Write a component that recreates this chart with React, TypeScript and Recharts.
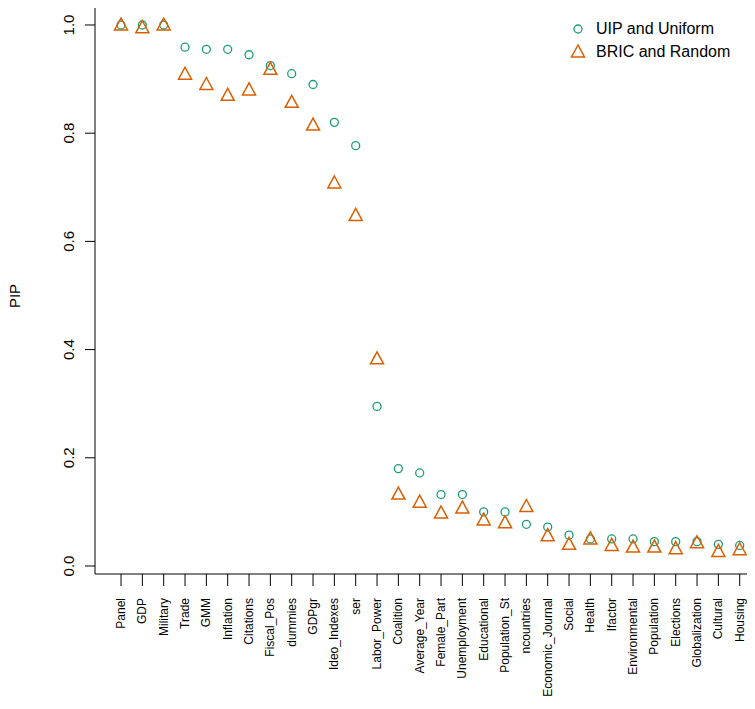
import { ComposedChart, Scatter, XAxis, YAxis } from "recharts";

const categories = [
  "Panel", "GDP", "Military", "Trade", "GMM", "Inflation", "Citations", "Fiscal_Pos",
  "dummies", "GDPgr", "Ideo_Indexes", "ser", "Labor_Power", "Coalition", "Average_Year",
  "Female_Part", "Unemployment", "Educational", "Population_St", "ncountries",
  "Economic_Journal", "Social", "Health", "Ifactor", "Environmental", "Population",
  "Elections", "Globalization", "Cultural", "Housing",
];

const uipUniform = [
  1.0, 1.0, 1.0, 0.959, 0.955, 0.955, 0.945, 0.925, 0.91, 0.89, 0.82, 0.777, 0.295,
  0.18, 0.172, 0.132, 0.132, 0.1, 0.1, 0.077, 0.072, 0.057, 0.05, 0.05, 0.05, 0.045,
  0.045, 0.045, 0.04, 0.038,
];

const bricRandom = [
  1.0, 0.995, 1.0, 0.909, 0.89, 0.87, 0.88, 0.918, 0.857, 0.815, 0.708, 0.648, 0.383,
  0.133, 0.118, 0.098, 0.107, 0.085, 0.08, 0.11, 0.056, 0.04, 0.05, 0.038, 0.035,
  0.035, 0.032, 0.043, 0.027, 0.03,
];

const yTicks = [0, 0.2, 0.4, 0.6, 0.8, 1.0];

const uipData = categories.map((name, i) => ({ i, name, v: uipUniform[i] }));
const bricData = categories.map((name, i) => ({ i, name, v: bricRandom[i] }));

const GREEN = "#1b9e77";
const ORANGE = "#d95f02";
const FONT = "Liberation Sans, Arial, sans-serif";

const Circle = (p: any) => (
  <circle cx={p.cx} cy={p.cy} r={4} fill="none" stroke={GREEN} strokeWidth={1.3} />
);

const Tri = (p: any) => (
  <polygon
    points={`${p.cx},${p.cy - 7} ${p.cx - 6.5},${p.cy + 5} ${p.cx + 6.5},${p.cy + 5}`}
    fill="none"
    stroke={ORANGE}
    strokeWidth={1.5}
  />
);

const XTick = (p: any) => (
  <text
    transform={`translate(${p.x},598) rotate(-90)`}
    textAnchor="end"
    dy={4}
    fontSize={12}
    fontFamily={FONT}
    fill="#000"
  >
    {categories[p.payload.value]}
  </text>
);

const YTick = (p: any) => (
  <text
    transform={`translate(74,${p.y}) rotate(-90)`}
    textAnchor="middle"
    fontSize={15}
    fontFamily={FONT}
    fill="#000"
  >
    {p.payload.value.toFixed(1)}
  </text>
);

export default function App() {
  return (
    <div style={{ position: "relative", width: 755, height: 709, margin: -8, overflow: "hidden", background: "#fff" }}>
      <ComposedChart width={770} height={709} margin={{ top: 4, right: 0, left: 0, bottom: 0 }}>
        <XAxis
          type="number"
          dataKey="i"
          domain={[-1.22, 30.42]}
          ticks={categories.map((_, i) => i)}
          interval={0}
          height={135}
          tickSize={12}
          axisLine={{ stroke: "#000" }}
          tickLine={{ stroke: "#000" }}
          tick={<XTick />}
        />
        <YAxis
          type="number"
          dataKey="v"
          domain={[-0.0148, 1.0388]}
          ticks={yTicks}
          width={95}
          tickSize={10}
          axisLine={{ stroke: "#000" }}
          tickLine={{ stroke: "#000" }}
          tick={<YTick />}
        />
        <Scatter data={uipData} dataKey="v" shape={<Circle />} isAnimationActive={false} />
        <Scatter data={bricData} dataKey="v" shape={<Tri />} isAnimationActive={false} />
      </ComposedChart>
      <div style={{ position: "absolute", left: 95, top: 4, width: 700, borderTop: "1px solid #000" }} />
      <div
        style={{
          position: "absolute",
          left: 14,
          top: 296,
          transform: "translate(-50%,-50%) rotate(-90deg)",
          fontFamily: FONT,
          fontSize: 15,
        }}
      >
        PIP
      </div>
      <div style={{ position: "absolute", left: 570, top: 17, fontFamily: FONT, fontSize: 16, lineHeight: "23px" }}>
        <div style={{ display: "flex", alignItems: "center" }}>
          <svg width={20} height={20}>
            <circle cx={8} cy={10} r={4} fill="none" stroke={GREEN} strokeWidth={1.3} />
          </svg>
          <span style={{ marginLeft: 6 }}>UIP and Uniform</span>
        </div>
        <div style={{ display: "flex", alignItems: "center" }}>
          <svg width={20} height={20}>
            <polygon points="8,3 1.5,15 14.5,15" fill="none" stroke={ORANGE} strokeWidth={1.5} />
          </svg>
          <span style={{ marginLeft: 6 }}>BRIC and Random</span>
        </div>
      </div>
    </div>
  );
}
